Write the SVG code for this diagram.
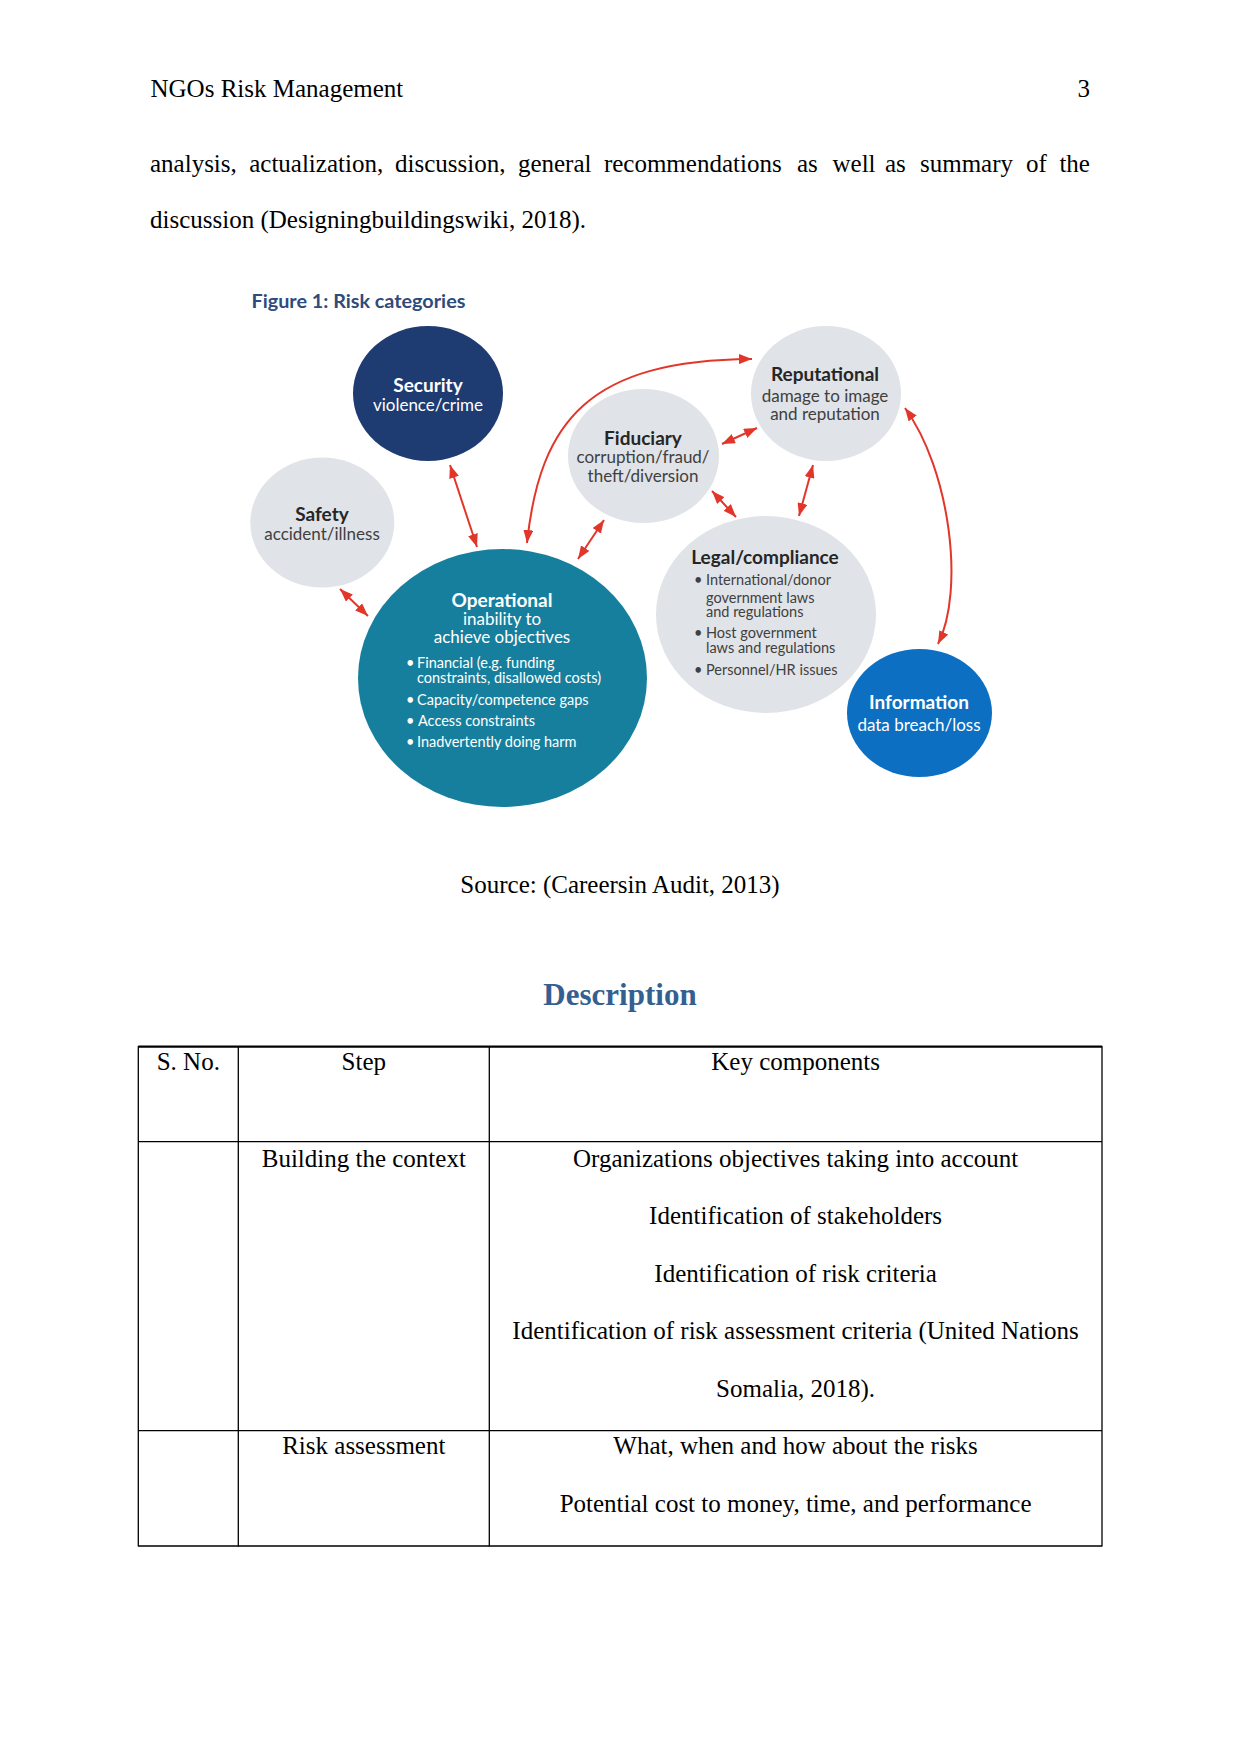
<svg xmlns="http://www.w3.org/2000/svg" width="1241" height="1754" viewBox="0 0 1241 1754">
<style>
.doc{font-family:"Liberation Serif","Times New Roman",serif;font-size:25px;fill:#000}
.fig{font-family:Lato,"Open Sans",sans-serif}
.t{font-size:19px;font-weight:bold;text-anchor:middle}
.s{font-size:17px;text-anchor:middle}
.b{font-size:14.5px}
.dk .t{fill:#262626}.dk .s,.dk .b{fill:#404040}
.lt .t,.lt .s,.lt .b{fill:#ffffff}
.grey{fill:#e0e3e7}
.arr{fill:none;stroke:#e2362b;stroke-width:2;marker-start:url(#ah);marker-end:url(#ah)}
.cell{fill:none;stroke:#000;stroke-width:1.3}
.c{text-anchor:middle}
</style>
<defs>
<marker id="ah" markerUnits="userSpaceOnUse" viewBox="0 0 13 10" refX="13" refY="5" markerWidth="13" markerHeight="10" orient="auto-start-reverse">
<path d="M0,0 L13,5 L0,10 z" fill="#e2362b"/>
</marker>
</defs>
<rect width="1241" height="1754" fill="#ffffff"/>

<g id="page-text" class="doc">
<text x="150.5" y="96.7">NGOs Risk Management</text>
<text x="1090" y="96.7" text-anchor="end">3</text>
<text y="172.3"><tspan x="150">analysis,</tspan><tspan x="249.2">actualization,</tspan><tspan x="395.1">discussion,</tspan><tspan x="517.9">general</tspan><tspan x="603.9">recommendations</tspan><tspan x="797">as</tspan><tspan x="832.5">well</tspan><tspan x="885">as</tspan><tspan x="920">summary</tspan><tspan x="1026">of</tspan><tspan x="1059.4">the</tspan></text>
<text x="150" y="228.3">discussion (Designingbuildingswiki, 2018).</text>
<text x="620" y="893.3" class="c">Source: (Careersin Audit, 2013)</text>
<text x="620" y="1005" class="c" style="font-size:31px;font-weight:bold;fill:#365f91">Description</text>
</g>

<text id="figure-title" class="fig" x="251.5" y="308.3" style="font-size:19.8px;font-weight:bold;fill:#2f4b7c">Figure 1: Risk categories</text>

<g id="connectors">
<path class="arr" d="M450,465 L477,547"/>
<path class="arr" d="M340,589 L368,616"/>
<path class="arr" d="M604,520 L578,559"/>
<path class="arr" d="M722,444 L757,428"/>
<path class="arr" d="M712,491 L736,517"/>
<path class="arr" d="M813,465 L799,516"/>
<path class="arr" d="M527,543 C540,420 590,360 752,359"/>
<path class="arr" d="M905,408 C950,470 965,590 938,644"/>
</g>

<g id="node-security" class="fig lt">
<ellipse cx="428" cy="393.5" rx="75" ry="67.5" fill="#1f3c72"/>
<text class="t" x="428" y="391.5">Security</text>
<text class="s" x="428" y="410.7">violence/crime</text>
</g>

<g id="node-safety" class="fig dk">
<ellipse cx="322.3" cy="522.6" rx="72" ry="65" class="grey"/>
<text class="t" x="322" y="520.7">Safety</text>
<text class="s" x="322" y="540">accident/illness</text>
</g>

<g id="node-fiduciary" class="fig dk">
<ellipse cx="643.5" cy="456" rx="75.5" ry="67" class="grey"/>
<text class="t" x="643" y="445">Fiduciary</text>
<text class="s" x="643" y="463.3">corruption/fraud/</text>
<text class="s" x="643" y="482.3">theft/diversion</text>
</g>

<g id="node-reputational" class="fig dk">
<ellipse cx="826" cy="393.5" rx="75" ry="67.5" class="grey"/>
<text class="t" x="825" y="381">Reputational</text>
<text class="s" x="825" y="401.5">damage to image</text>
<text class="s" x="825" y="419.5">and reputation</text>
</g>

<g id="node-operational" class="fig lt">
<ellipse cx="502.5" cy="678" rx="144.5" ry="129" fill="#177f9e"/>
<text class="t" x="502" y="606.7">Operational</text>
<text class="s" x="502" y="625">inability to</text>
<text class="s" x="502" y="643.3">achieve objectives</text>
<g class="b">
<text x="406" y="668.3">•</text><text x="417" y="668.3">Financial (e.g. funding</text>
<text x="417" y="683.3">constraints, disallowed costs)</text>
<text x="406" y="705">•</text><text x="417" y="705">Capacity/competence gaps</text>
<text x="406" y="725.7">•</text><text x="418" y="725.7">Access constraints</text>
<text x="406" y="746.7">•</text><text x="417" y="746.7">Inadvertently doing harm</text>
</g>
</g>

<g id="node-legal" class="fig dk">
<ellipse cx="766" cy="614.5" rx="110" ry="98.5" class="grey"/>
<text class="t" x="765" y="564">Legal/compliance</text>
<g class="b">
<text x="694" y="585">•</text><text x="706" y="585">International/donor</text>
<text x="706" y="602.7">government laws</text>
<text x="706" y="617">and regulations</text>
<text x="694" y="638.3">•</text><text x="706" y="638.3">Host government</text>
<text x="706" y="652.7">laws and regulations</text>
<text x="694" y="675">•</text><text x="706" y="675">Personnel/HR issues</text>
</g>
</g>

<g id="node-information" class="fig lt">
<ellipse cx="919.5" cy="713" rx="72.5" ry="64" fill="#0d6fc1"/>
<text class="t" x="919" y="709">Information</text>
<text class="s" x="919" y="730.7">data breach/loss</text>
</g>

<g id="table" class="doc">
<line x1="138.3" y1="1046.7" x2="1102" y2="1046.7" stroke="#000" stroke-width="2.2"/>
<line class="cell" x1="138.3" y1="1141.7" x2="1102" y2="1141.7"/>
<line class="cell" x1="138.3" y1="1430.7" x2="1102" y2="1430.7"/>
<line class="cell" x1="138.3" y1="1546" x2="1102" y2="1546"/>
<line class="cell" x1="138.3" y1="1046" x2="138.3" y2="1546.6"/>
<line class="cell" x1="238.3" y1="1046" x2="238.3" y2="1546.6"/>
<line class="cell" x1="489.3" y1="1046" x2="489.3" y2="1546.6"/>
<line class="cell" x1="1102" y1="1046" x2="1102" y2="1546.6"/>
<text class="c" x="188.3" y="1070">S. No.</text>
<text class="c" x="363.8" y="1070">Step</text>
<text class="c" x="795.6" y="1070">Key components</text>
<text class="c" x="363.8" y="1166.5">Building the context</text>
<text class="c" x="795.6" y="1166.5">Organizations objectives taking into account</text>
<text class="c" x="795.6" y="1224">Identification of stakeholders</text>
<text class="c" x="795.6" y="1281.5">Identification of risk criteria</text>
<text class="c" x="795.6" y="1339">Identification of risk assessment criteria (United Nations</text>
<text class="c" x="795.6" y="1396.5">Somalia, 2018).</text>
<text class="c" x="363.8" y="1454">Risk assessment</text>
<text class="c" x="795.6" y="1454">What, when and how about the risks</text>
<text class="c" x="795.6" y="1511.5">Potential cost to money, time, and performance</text>
</g>
</svg>
